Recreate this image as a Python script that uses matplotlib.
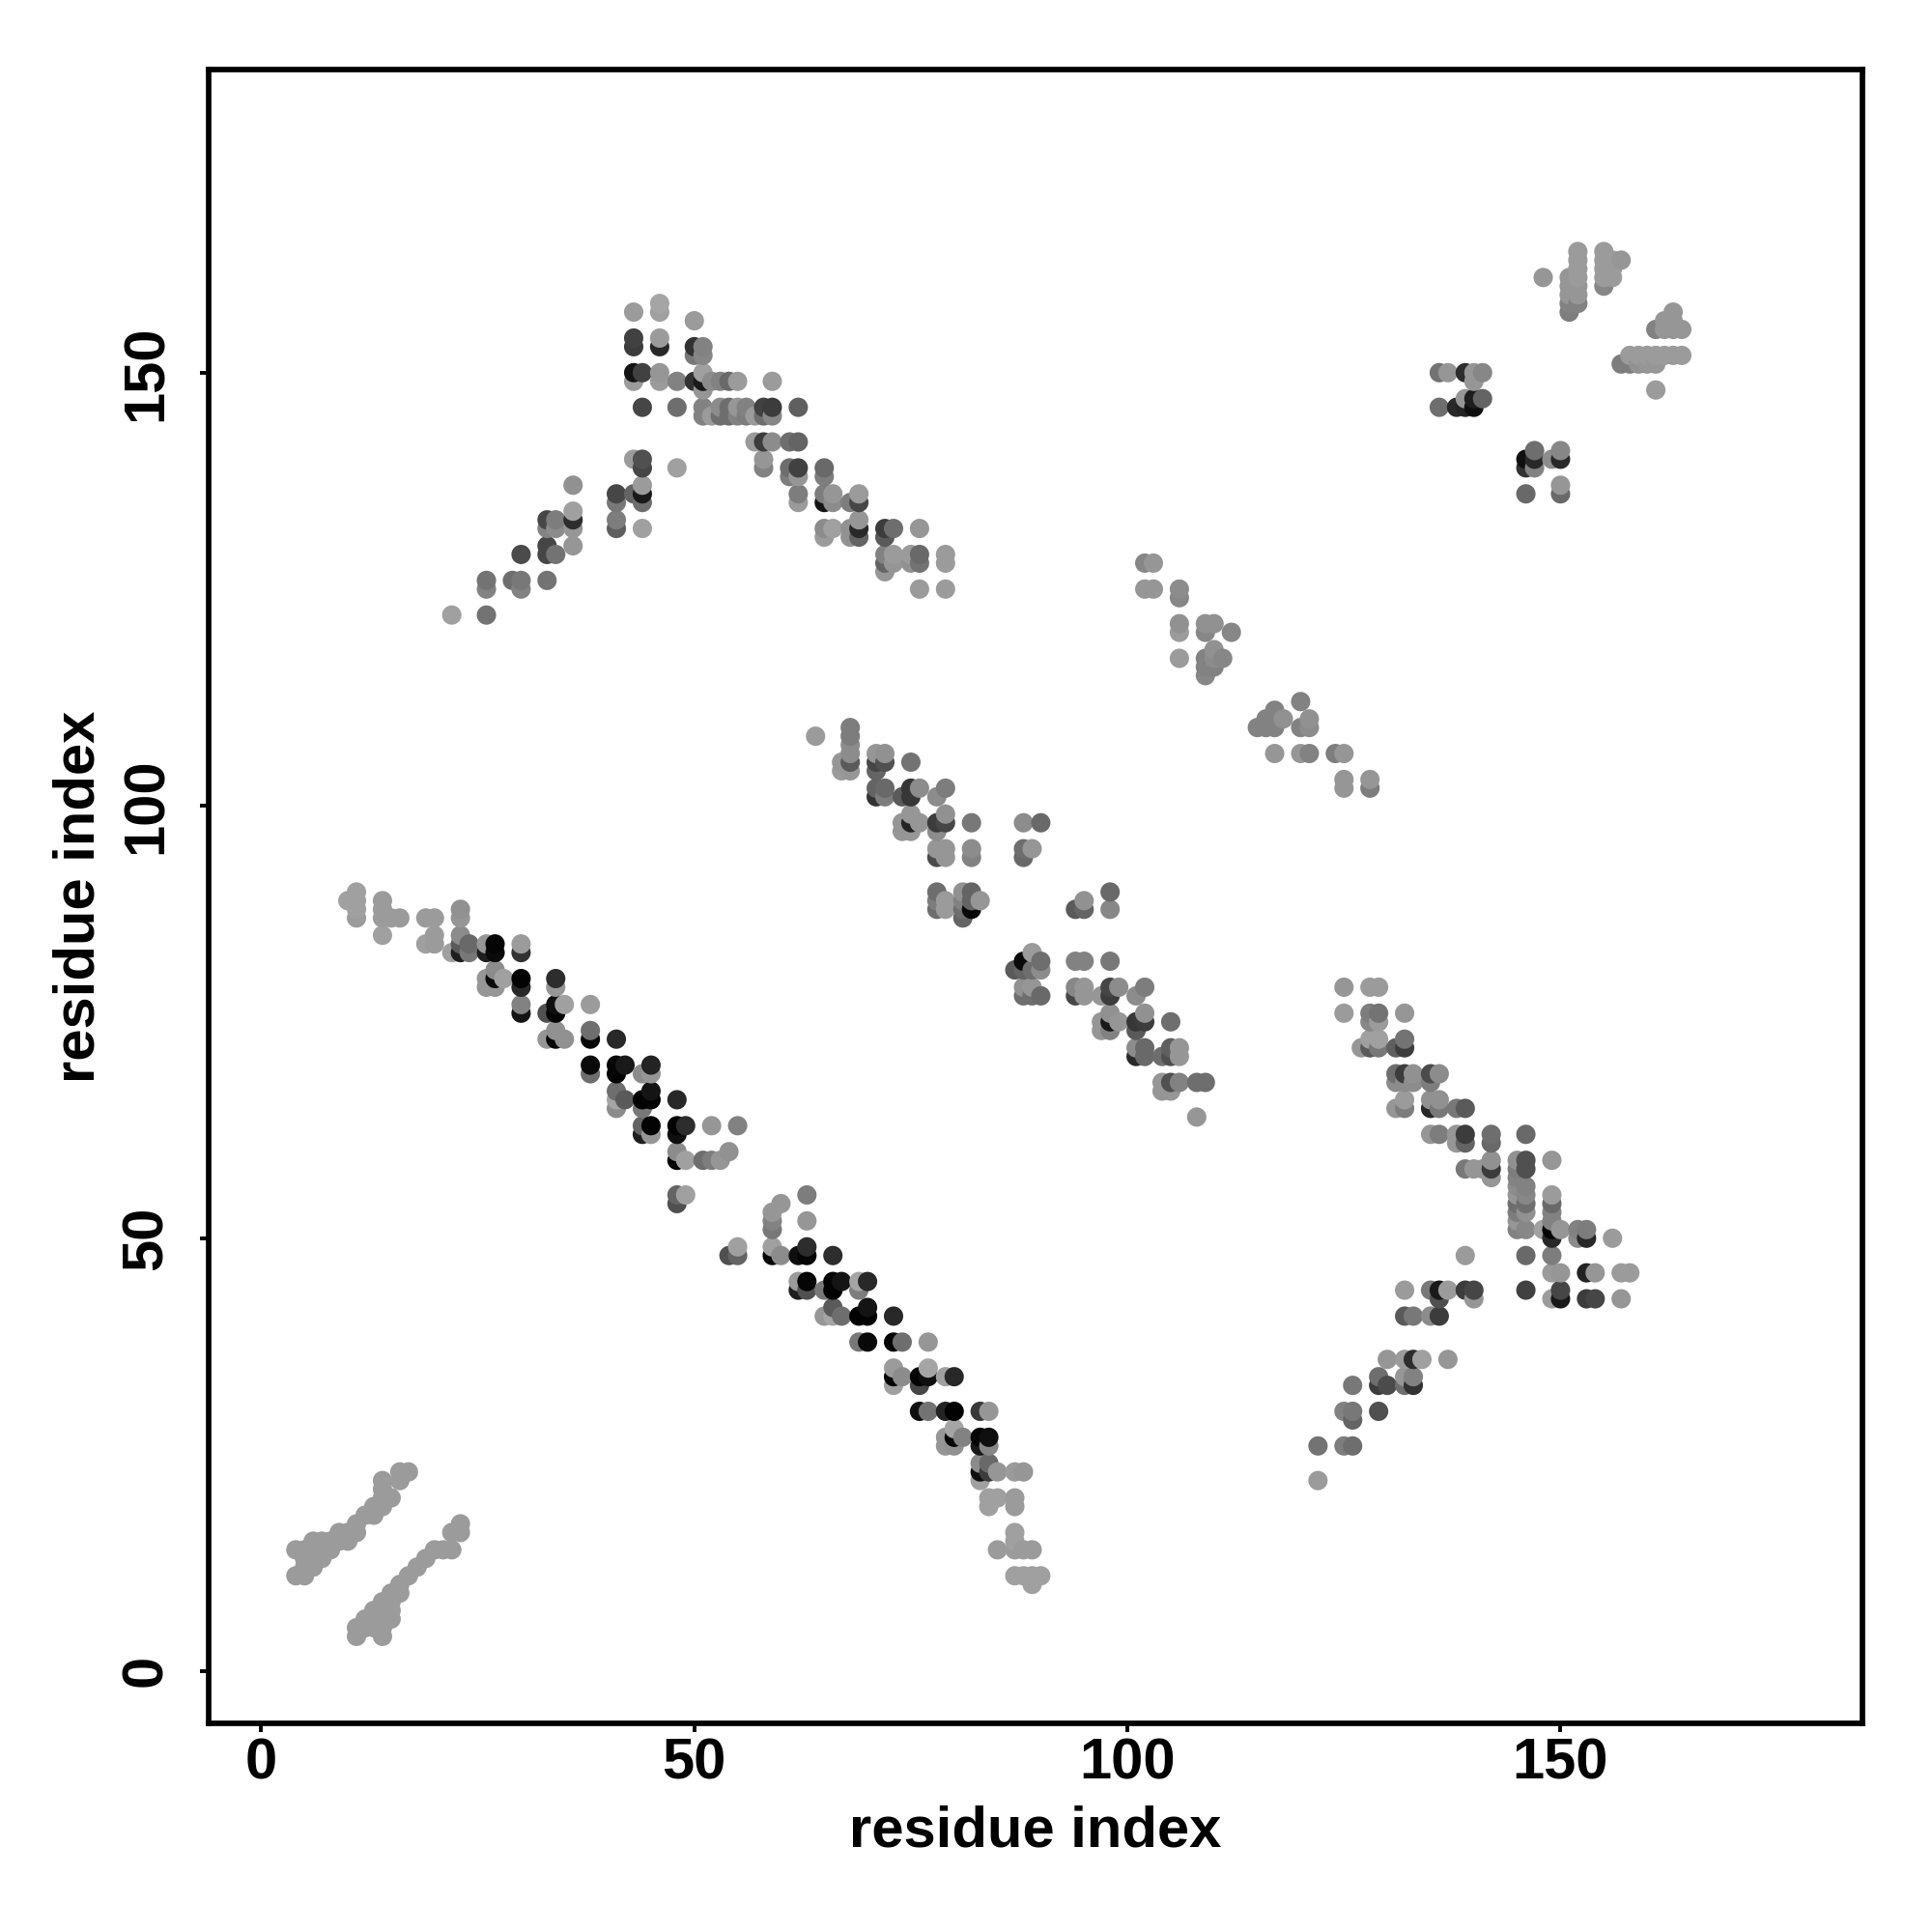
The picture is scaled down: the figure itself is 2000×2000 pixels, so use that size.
import numpy as np
import matplotlib
matplotlib.use("Agg")
import matplotlib.pyplot as plt

plt.rcParams['font.family'] = ['Liberation Sans', 'DejaVu Sans']

# Each row: one residue index on the y axis, the contacting x residues, and grey level (0-255)
row_y = [
    # helix pair, lower left
    23, 22, 21, 20, 19, 18, 17, 16, 15, 14, 13, 12, 11,
    17, 16, 14, 13, 12, 11, 10, 9, 8, 7, 6, 5, 4,
    # long antiparallel band, left half
    90, 89, 88, 87, 85, 84, 83, 81, 80, 79, 77, 76, 74, 73, 70, 69, 67, 66, 65, 63, 62, 60, 59, 55, 54,
    # long antiparallel band, right half
    55, 54, 53, 52, 51, 49, 48, 45, 44, 42, 41, 38, 35, 34, 33, 30, 28, 27, 26, 24, 23, 22, 20, 19, 16, 15, 14, 11, 10,
    # upper peak
    158, 157, 156, 154, 153, 152, 150, 149, 148, 146, 145, 142, 140, 139, 138, 137, 136, 135, 134, 133, 132, 131, 130, 129, 128, 127, 126, 125, 122,
    # middle band
    109, 108, 107, 106, 105, 104, 102, 101, 99, 98, 97, 95, 94, 90, 89, 88, 87,
    90, 89, 88, 83, 82, 81, 79, 78, 76, 75, 74, 72, 71, 68, 67, 64,
    # right band
    79, 76, 75, 73, 72, 69, 68, 66, 65, 62, 61, 59, 58, 57, 56, 55, 54, 53, 52, 51, 50, 48, 46, 44, 43, 41,
    # lower right
    36, 34, 33, 30, 29, 26, 22,
    # upper right
    164, 163, 162, 161, 160, 159, 158, 157, 156, 155, 152, 151, 148,
    150, 149, 147, 146, 141, 140, 139, 137, 136,
    # upper middle
    128, 125, 124, 121, 120, 118, 117, 116, 115, 112, 111, 110, 109, 106, 103, 102,
]

row_x = [
    [16, 17], [14, 16], [14], [14, 15], [13, 14], [12, 13], [11], [9, 10, 11], [6, 7, 8, 9, 10], [4, 5, 6, 7, 8], [5, 6, 7], [5, 6], [4, 5],
    [23], [22, 23], [20, 21, 22], [19], [18], [17], [16], [15, 16], [14, 15], [13, 14, 15], [12, 13, 14, 15], [11, 12, 13, 14], [11, 14],
    [11], [10, 11, 14], [11, 14, 23], [11, 14, 15, 16, 19, 20, 23], [14, 20, 23], [19, 20, 23, 24, 26, 27, 30], [22, 23, 24, 26, 27, 30], [27], [26, 27, 28, 30, 34], [26, 27, 30, 34], [30, 34, 35, 38], [30, 33, 34], [34, 38], [33, 34, 35, 38, 41], [38, 41, 42, 45], [38, 41, 44, 45], [41, 45], [41, 42, 44, 45, 48], [41, 44], [44, 45, 48, 49, 52, 55], [44, 45, 48], [48, 54], [48, 49, 51, 52, 53], [48, 49], [48],
    [63], [60], [59], [59, 63], [59], [55, 59, 63], [54, 55, 59, 60, 62, 63, 66], [62, 63, 66, 67, 69, 70], [62, 63, 65, 66, 69], [66, 70], [65, 66, 67, 69, 70, 73], [69, 70, 73, 74, 77], [73, 77], [73, 74, 76, 77, 79, 80], [73, 76], [76, 77, 79, 80, 83, 84], [80], [79, 80, 81, 83, 84], [79, 80, 83, 84], [83, 84], [83, 84, 85, 87, 88], [83], [84, 85, 87], [84, 87], [87], [87], [85, 87, 88, 89], [87, 88, 89, 90], [89],
    [46], [43, 46], [50], [43, 46], [43, 46, 50, 51], [50, 51], [43, 44, 46, 51], [43, 46, 48, 50, 51, 52, 53, 54, 55, 59], [51], [44, 48, 51, 53, 54, 55, 56, 58, 59, 62], [51, 52, 53, 54, 55, 56, 57, 58, 59], [57, 58, 59, 61, 62], [43, 44, 58], [44, 48, 58, 61, 62, 65], [61, 62, 65], [36, 44], [41, 43, 44, 62, 65, 66, 69], [41, 44, 62, 65, 66, 68, 69], [36], [33, 34, 36, 41, 69], [33, 34, 36, 41, 44, 65, 66, 68, 69, 72, 73, 76], [65, 68, 69, 72], [33, 36], [30, 33, 34, 72, 73, 75, 76, 79], [72, 73, 75, 76, 79], [72], [26, 29, 30, 33], [26, 30, 76, 79], [22, 26],
    [68], [64, 68], [68], [68, 71, 72], [67, 68, 71, 72, 75], [67, 68, 71], [71, 72, 75, 76, 79], [71, 72, 74, 75, 78], [75, 79], [74, 75, 76, 78, 79, 82, 88, 90], [74, 75, 78], [78, 79, 82, 88, 89], [78, 79, 82, 88], [78, 81, 82], [78, 79, 81, 82, 83], [78, 79, 81, 82], [81],
    [98], [95], [94, 95, 98], [89], [88, 90, 94, 95, 98], [87, 88, 89, 90], [88, 89, 94, 95, 98, 99, 102], [88, 89, 90, 94, 95, 97, 98, 101], [98, 102], [97, 98, 99, 101, 102, 105], [97, 98, 101], [101, 102, 105, 106], [101, 102, 104, 105, 106], [104, 105, 106, 108, 109], [104, 105], [108],
    [125, 128, 129], [125, 128, 129, 132], [128, 129], [128, 129, 132], [127, 128, 129, 131, 132], [131, 132, 133, 135, 136], [131, 132, 133, 135], [132, 135, 136], [131, 132, 135, 136, 138, 139], [135, 136, 138, 139, 142, 146], [138, 139, 142], [142, 145, 146, 149], [139, 140, 141, 142, 145, 146], [142, 145], [145, 146], [145, 146, 149], [145, 146, 149], [145, 146, 149], [145, 149], [145, 146, 148, 149, 150, 152, 153], [149, 152, 153, 156], [139, 146, 149], [149, 150, 153, 154, 157, 158], [132, 135, 136, 137, 139, 140, 146, 150], [136, 140, 149, 150, 153, 154, 157], [132, 133, 135, 136],
    [130, 132, 133, 134, 137], [129, 132, 133], [126, 129, 130, 132, 133], [125, 126, 129], [126], [122, 125, 126], [122],
    [152, 155], [152, 155, 156, 157], [152, 155, 156], [148, 151, 152, 155, 156], [151, 152, 155], [151, 152], [151, 152], [151, 163], [162, 163], [161, 162, 163, 164], [158, 159, 160, 161, 162, 163, 164], [157, 158, 159, 160, 161], [161],
    [136, 137, 139, 140, 141], [140], [139, 140, 141], [136, 138, 139, 140], [147, 150], [146, 147, 149, 150], [146, 147], [150], [146, 150],
    [102, 103], [102, 103, 106], [106], [106, 109, 110], [106, 109, 112], [110], [106, 109, 110, 111], [109, 110], [109], [120], [117], [116, 117, 118, 121], [115, 116, 117, 120, 121], [117, 120, 121, 124, 125], [125, 128], [125, 128],
]

row_shade = [
    [155, 155], [155, 155], [155], [155, 155], [155, 155], [155, 155], [155], [155, 155, 155], [155, 155, 155, 155, 155], [155, 155, 155, 155, 155], [155, 155, 155], [155, 155], [155, 155],
    [155], [155, 155], [155, 155, 155], [155], [155], [155], [155], [155, 155], [155, 155], [155, 155, 155], [155, 155, 155, 155], [155, 155, 155, 155], [155, 155],
    [160], [160, 160, 155], [160, 155, 145], [155, 155, 155, 155, 155, 155, 150], [160, 155, 140], [160, 155, 90, 105, 150, 5, 155], [160, 30, 120, 30, 10, 50], [140], [150, 10, 160, 3, 45], [150, 150, 40, 150], [130, 15, 160, 155], [20, 80, 5], [145, 110], [150, 5, 145, 8, 40], [10, 5, 25, 35], [110, 3, 140, 150], [110, 20], [165, 90, 2, 3, 40], [140, 120], [100, 3, 3, 45, 150, 130], [30, 150, 15], [140, 145], [2, 160, 110, 125, 150], [100, 160], [80],
    [125], [150], [150], [130, 150], [120], [160, 160, 45], [80, 100, 5, 140, 15, 5, 45], [155, 5, 3, 20, 165, 40], [30, 80, 120, 2, 125], [90, 20], [150, 165, 110, 2, 3, 40], [120, 8, 3, 110, 150], [155, 165], [3, 140, 3, 15, 160, 40], [160, 70], [15, 115, 35, 2, 55, 150], [165], [150, 3, 130, 5, 15], [150, 145, 25, 135], [140, 105], [15, 60, 150, 155, 150], [160], [160, 160, 155], [160, 155], [160], [160], [155, 155, 155, 155], [160, 160, 160, 160], [160],
    [165], [155, 160], [155], [65, 155], [60, 40, 50, 130], [120, 135], [20, 65, 150, 160], [155, 155, 130, 50, 25, 140, 130, 105, 155, 155], [150], [70, 110, 130, 140, 110, 150, 130, 65, 60, 95], [130, 155, 110, 110, 130, 125, 155, 110, 135], [155, 60, 140, 110, 100], [155, 80, 150], [70, 160, 130, 110, 65, 105], [125, 150, 125], [145, 155], [70, 100, 25, 125, 125, 150, 155], [120, 110, 155, 20, 140, 125, 70], [160], [70, 125, 45, 125, 150], [130, 140, 150, 95, 160, 140, 160, 145, 40, 60, 110, 150], [155, 145, 100, 90], [70, 150], [75, 70, 115, 130, 155, 155, 105, 155], [100, 150, 145, 115, 155], [150], [115, 110, 120, 115], [130, 130, 155, 155], [160, 115],
    [125], [155, 125], [140], [140, 150, 145], [150, 90, 70, 80, 115], [155, 150, 100], [100, 105, 55, 140, 125], [50, 125, 90, 55, 140], [150, 145], [150, 35, 150, 60, 70, 120, 140, 105], [150, 150, 140], [150, 150, 140, 110, 150], [75, 150, 130, 105], [110, 145, 100], [125, 155, 130, 100, 150], [110, 155, 110, 8], [100],
    [105], [145], [90, 100, 135], [155], [10, 110, 130, 130, 120], [90, 100, 110, 140], [145, 150, 135, 150, 70, 140, 125], [110, 110, 105, 70, 150, 150, 60, 140], [145, 145], [150, 25, 150, 55, 60, 110], [150, 130, 90], [140, 105, 95, 150], [40, 105, 110, 80, 150], [150, 80, 130, 110, 110], [150, 150], [150],
    [150, 155, 155], [155, 125, 115, 150], [135, 155], [160, 160, 115], [150, 90, 120, 95, 60], [110, 60, 145, 75, 140], [140, 140, 140, 125], [155, 145, 145], [150, 125, 40, 120, 120, 90], [150, 125, 150, 60, 110, 105], [150, 100, 105], [145, 145, 80, 150], [120, 150, 150, 60, 125, 80], [150, 130], [140, 130], [150, 135, 155], [110, 110, 105], [125, 145, 130], [150, 130], [130, 135, 160, 5, 150, 130, 125], [40, 140, 40, 155], [155, 105, 125], [155, 150, 35, 150, 155, 155], [155, 120, 25, 155, 60, 70, 65, 70], [80, 150, 155, 25, 60, 70, 150], [90, 120, 140, 60],
    [150, 155, 45, 160, 150], [110, 150, 130], [120, 60, 75, 110, 50], [130, 120, 80], [100], [115, 125, 110], [155],
    [155, 155], [155, 155, 155, 150], [155, 155, 155], [150, 150, 155, 155, 155], [150, 150, 135], [150, 150], [130, 130], [125, 150], [150, 150], [130, 150, 150, 150], [155, 155, 155, 155, 155, 155, 155], [125, 125, 145, 150, 150], [155],
    [115, 150, 45, 150, 135], [150], [150, 30, 100], [110, 40, 35, 15], [110, 135], [15, 40, 140, 40], [50, 130], [150], [105, 105],
    [135, 150], [150, 150, 140], [135], [145, 145, 145], [155, 135, 135], [145], [155, 130, 140, 135], [130, 130], [135], [130], [130], [130, 130, 145, 145], [130, 130, 130, 130, 140], [150, 150, 130, 125, 150], [150, 150], [150, 125],
]

tick_vals = [0, 50, 100, 150]
x_label = "residue index"
y_label = "residue index"

xs = np.concatenate([np.asarray(v, float) for v in row_x])
ys = np.concatenate([np.full(len(v), y, float) for y, v in zip(row_y, row_x)])
gs = []
for xv, gv in zip(row_x, row_shade):
    if len(xv) != len(gv):
        gv = (list(gv) + [gv[-1]] * len(xv))[:len(xv)]
    gs.extend(gv)
gs = np.asarray(gs, float) / 255.0

# painted in residue order: later x, then later y, lies on top
order = np.lexsort((ys, xs))
xs, ys, gs = xs[order], ys[order], gs[order]

L, R, T, B = 216, 1928, 72, 1784
fig = plt.figure(figsize=(10, 10), dpi=200)
ax = fig.add_axes([L / 2000, 1 - B / 2000, (R - L) / 2000, (B - T) / 2000])
ax.scatter(xs, ys, s=52, c=np.column_stack([gs, gs, gs]), linewidths=0, zorder=2)

ax.set_xlim((L - 270.4) / 8.967, (R - 270.4) / 8.967)
ax.set_ylim((1729.8 - B) / 8.96, (1729.8 - T) / 8.96)
ax.set_xticks(tick_vals)
ax.set_yticks(tick_vals)
for s in ax.spines.values():
    s.set_linewidth(2.05)
ax.tick_params(axis='both', length=3.2, width=1.4, labelsize=21.5)
ax.tick_params(axis='x', pad=2.2)
ax.tick_params(axis='y', pad=10)
for t in ax.get_xticklabels():
    t.set_fontweight('bold')
for t in ax.get_yticklabels():
    t.set_fontweight('bold')
    t.set_rotation(90)
    t.set_va('center')
ax.set_xlabel(x_label, fontsize=21.5, fontweight='bold')
ax.set_ylabel(y_label, fontsize=21.5, fontweight='bold')
ax.xaxis.set_label_coords(0.5, -0.0496)
ax.yaxis.set_label_coords(-0.0623, 0.5)
fig.savefig("out.png", dpi=200, facecolor='white')
print(len(xs), [i for i, (a, b) in enumerate(zip(row_x, row_shade)) if len(a) != len(b)], len(row_y), len(row_x), len(row_shade))
